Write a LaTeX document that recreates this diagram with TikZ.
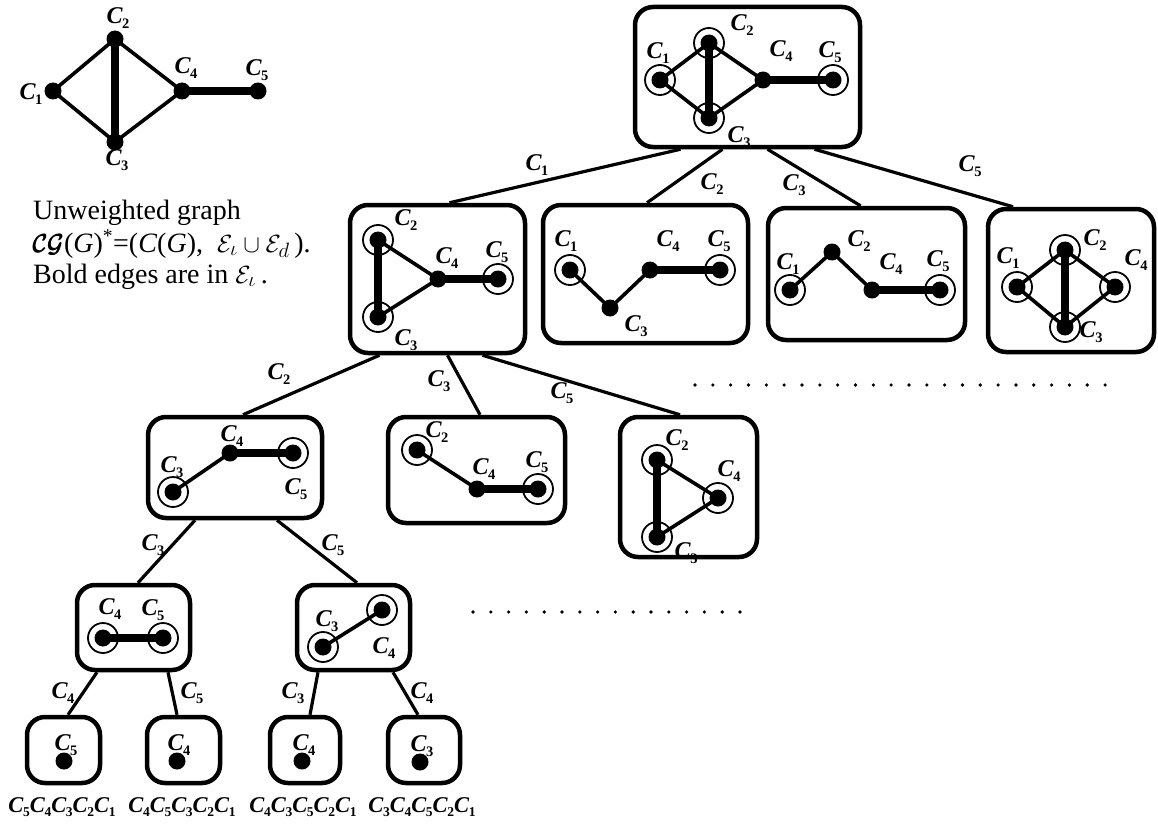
\documentclass[tikz,border=0pt]{standalone}
\usepackage{amsmath,amssymb,bm}
\usepackage{fontspec}
\setmainfont{Liberation Serif}
\usetikzlibrary{calc}

\newcommand\Cv[1]{\textbf{\textit{C}}\kern-0.5pt\raisebox{-4.5pt}{\fontsize{14.5}{14.5}\selectfont\textbf{#1}}}
\newcommand\Cs[1]{\textbf{\textit{C}}\kern-0.5pt\raisebox{-4pt}{\fontsize{13.5}{13.5}\selectfont\textbf{#1}}}
\newcommand\dotat[1]{\fill (#1) circle (8.5pt);}
\newcommand\ringat[1]{\draw[ringst] (#1) circle (15pt);}

\tikzset{
  box/.style={draw, line width=4.5pt, rounded corners=18pt, inner sep=0pt},
  tedge/.style={line width=3.2pt},
  gthin/.style={line width=3.6pt},
  gthick/.style={line width=8pt},
  ringst/.style={line width=1.8pt},
  lab/.style={font=\fontsize{24}{26}\selectfont, inner sep=0pt},
  seq/.style={font=\fontsize{22.5}{24}\selectfont, inner sep=0pt},
  leg/.style={font=\fontsize{28}{32}\selectfont, inner sep=0pt, anchor=base west},
}

\begin{document}
\begin{tikzpicture}[x=1pt,y=-1pt]
\useasboundingbox (0,0) rectangle (1158,824);

% ---------- small reference graph ----------
\coordinate (t1) at (53,91);
\coordinate (t2) at (115,39);
\coordinate (t3) at (115,142);
\coordinate (t4) at (182,91);
\coordinate (t5) at (258,91);
\draw[gthin] (t1) -- (t2) (t1) -- (t3) (t2) -- (t4) (t3) -- (t4);
\draw[gthick] (t2) -- (t3) (t4) -- (t5);
\foreach \p in {t1,t2,t3,t4,t5} {\dotat{\p}}
\node[lab] (tl2) at (118,18) {\Cv2};
\node[lab] (tl1) at (31,94) {\Cv1};
\node[lab] (tl3) at (117,160) {\Cv3};
\node[lab] (tl4) at (186,68) {\Cv4};
\node[lab] (tl5) at (257,70) {\Cv5};

% ---------- legend ----------
\node[leg] (leg1) at (33,219) {Unweighted graph};
\node[leg] (leg2) at (33,252) {\pmb{$\mathcal{C}\mathcal{G}$}(\textit{G})\textsuperscript{*}=(\textit{C}(\textit{G}),\ \ $\mathcal{E}_{\iota}\cup\mathcal{E}_{d}$\,).};
\node[leg] (leg3) at (33,283) {Bold edges are in $\mathcal{E}_{\iota}$\,.};

% ---------- boxes ----------
\node[box, minimum width=225pt, minimum height=140pt] (root) at (747.5,77) {};
\node[box, minimum width=175pt, minimum height=148pt] (bA) at (437.5,279) {};
\node[box, minimum width=205pt, minimum height=138pt] (bB) at (645.5,274) {};
\node[box, minimum width=197pt, minimum height=132pt] (bC) at (866.5,274) {};
\node[box, minimum width=166pt, minimum height=143pt] (bD) at (1071,280.5) {};
\node[box, minimum width=174pt, minimum height=101pt] (bE) at (235,467.5) {};
\node[box, minimum width=177pt, minimum height=106pt] (bF) at (476.5,470) {};
\node[box, minimum width=137pt, minimum height=140pt] (bG) at (688.5,487) {};
\node[box, minimum width=113pt, minimum height=85pt] (bH) at (133.5,627.5) {};
\node[box, minimum width=113pt, minimum height=85pt] (bI) at (353.5,627.5) {};
\node[box, minimum width=73pt, minimum height=66pt] (l1) at (63.5,750) {};
\node[box, minimum width=73pt, minimum height=66pt] (l2) at (183.5,750) {};
\node[box, minimum width=70pt, minimum height=66pt] (l3) at (305,750) {};
\node[box, minimum width=72pt, minimum height=66pt] (l4) at (424,750) {};

% ---------- tree edges ----------
\draw[tedge] ([xshift=-67pt]root.south) -- ([xshift=12pt]bA.north);
\draw[tedge] ([xshift=-25pt]root.south) -- ([xshift=1.5pt]bB.north);
\draw[tedge] ([xshift=20pt]root.south) -- ([xshift=-6pt]bC.north);
\draw[tedge] ([xshift=67pt]root.south) -- ([xshift=-58pt]bD.north);
\draw[tedge] ([xshift=-58pt]bA.south) -- ([xshift=8pt]bE.north);
\draw[tedge] ([xshift=10pt]bA.south) -- ([xshift=3.5pt]bF.north);
\draw[tedge] ([xshift=45pt]bA.south) -- ([xshift=-8.5pt]bG.north);
\draw[tedge] ([xshift=-40pt]bE.south) -- ([xshift=4.5pt]bH.north);
\draw[tedge] ([xshift=42pt]bE.south) -- ([xshift=3.5pt]bI.north);
\draw[tedge] ([xshift=-36.5pt]bH.south) -- ([xshift=4.5pt]l1.north);
\draw[tedge] ([xshift=34.5pt]bH.south) -- ([xshift=-6.5pt]l2.north);
\draw[tedge] ([xshift=-35.5pt]bI.south) -- ([xshift=5pt]l3.north);
\draw[tedge] ([xshift=39.5pt]bI.south) -- ([xshift=-6pt]l4.north);

% ---------- edge labels ----------
\node[lab] (el1) at (537,165) {\Cv1};
\node[lab] (el2) at (712,184) {\Cv2};
\node[lab] (el3) at (794,185) {\Cv3};
\node[lab] (el4) at (970,166) {\Cv5};
\node[lab] (el5) at (279,374) {\Cv2};
\node[lab] (el6) at (439,381) {\Cv3};
\node[lab] (el7) at (562,393) {\Cv5};
\node[lab] (el8) at (153,545) {\Cv3};
\node[lab] (el9) at (333,545) {\Cv5};
\node[lab] (el10) at (63,693) {\Cv4};
\node[lab] (el11) at (192,693) {\Cv5};
\node[lab] (el12) at (293,693) {\Cv3};
\node[lab] (el13) at (422,693) {\Cv4};

% ---------- root graph ----------
\coordinate (r1) at (660,80);
\coordinate (r2) at (709,43);
\coordinate (r3) at (709,118);
\coordinate (r4) at (763,80);
\coordinate (r5) at (833,80);
\draw[gthin] (r1) -- (r2) (r1) -- (r3) (r2) -- (r4) (r3) -- (r4);
\draw[gthick] (r2) -- (r3) (r4) -- (r5);
\foreach \p in {r1,r2,r3,r5} {\ringat{\p}}
\foreach \p in {r1,r2,r3,r4,r5} {\dotat{\p}}
\node[lab] (rl1) at (658,53) {\Cv1};
\node[lab] (rl2) at (742,25) {\Cv2};
\node[lab] (rl4) at (781,51) {\Cv4};
\node[lab] (rl5) at (830,52) {\Cv5};
\node[lab] (rl3) at (739,137) {\Cv3};

% ---------- box A ----------
\coordinate (a2) at (378,240);
\coordinate (a3) at (378,317);
\coordinate (a4) at (438,279);
\coordinate (a5) at (498,279);
\draw[gthin] (a2) -- (a4) (a3) -- (a4);
\draw[gthick] (a2) -- (a3) (a4) -- (a5);
\foreach \p in {a2,a3,a5} {\ringat{\p}}
\foreach \p in {a2,a3,a4,a5} {\dotat{\p}}
\node[lab] (al2) at (406,220) {\Cv2};
\node[lab] (al4) at (447,258) {\Cv4};
\node[lab] (al5) at (497,252) {\Cv5};
\node[lab] (al3) at (406,340) {\Cv3};

% ---------- box B ----------
\coordinate (b1) at (570,270);
\coordinate (b3) at (610,308);
\coordinate (b4) at (650,270);
\coordinate (b5) at (720,270);
\draw[gthin] (b1) -- (b3) (b3) -- (b4);
\draw[gthick] (b4) -- (b5);
\foreach \p in {b1,b5} {\ringat{\p}}
\foreach \p in {b1,b3,b4,b5} {\dotat{\p}}
\node[lab] (bl1) at (566,241) {\Cv1};
\node[lab] (bl4) at (668,241) {\Cv4};
\node[lab] (bl5) at (719,241) {\Cv5};
\node[lab] (bl3) at (636,326) {\Cv3};

% ---------- box C ----------
\coordinate (c1) at (790,290);
\coordinate (c2) at (832,252);
\coordinate (c4) at (872,290);
\coordinate (c5) at (940,290);
\draw[gthin] (c1) -- (c2) (c2) -- (c4);
\draw[gthick] (c4) -- (c5);
\foreach \p in {c1,c5} {\ringat{\p}}
\foreach \p in {c1,c2,c4,c5} {\dotat{\p}}
\node[lab] (cl1) at (788,264) {\Cv1};
\node[lab] (cl2) at (859,241) {\Cv2};
\node[lab] (cl4) at (891,264) {\Cv4};
\node[lab] (cl5) at (938,261) {\Cv5};

% ---------- box D ----------
\coordinate (d1) at (1017,287);
\coordinate (d2) at (1065,250);
\coordinate (d3) at (1065,327);
\coordinate (d4) at (1115,287);
\draw[gthin] (d1) -- (d2) (d1) -- (d3) (d2) -- (d4) (d3) -- (d4);
\draw[gthick] (d2) -- (d3);
\foreach \p in {d1,d2,d3,d4} {\ringat{\p}}
\foreach \p in {d1,d2,d3,d4} {\dotat{\p}}
\node[lab] (dl1) at (1008,258) {\Cv1};
\node[lab] (dl2) at (1095,240) {\Cv2};
\node[lab] (dl4) at (1136,260) {\Cv4};
\node[lab] (dl3) at (1091,332) {\Cv3};

% ---------- box E ----------
\coordinate (e3) at (173,492);
\coordinate (e4) at (230,453);
\coordinate (e5) at (293,453);
\draw[gthin] (e3) -- (e4);
\draw[gthick] (e4) -- (e5);
\foreach \p in {e3,e5} {\ringat{\p}}
\foreach \p in {e3,e4,e5} {\dotat{\p}}
\node[lab] (elb4) at (232,436) {\Cv4};
\node[lab] (elb3) at (172,467) {\Cv3};
\node[lab] (elb5) at (296,489) {\Cv5};

% ---------- box F ----------
\coordinate (f2) at (417,450);
\coordinate (f4) at (477,489);
\coordinate (f5) at (538,489);
\draw[gthin] (f2) -- (f4);
\draw[gthick] (f4) -- (f5);
\foreach \p in {f2,f5} {\ringat{\p}}
\foreach \p in {f2,f4,f5} {\dotat{\p}}
\node[lab] (fl2) at (437,432) {\Cv2};
\node[lab] (fl4) at (484,469) {\Cv4};
\node[lab] (fl5) at (537,462) {\Cv5};

% ---------- box G ----------
\coordinate (gg2) at (657,460);
\coordinate (gg3) at (657,537);
\coordinate (gg4) at (718,498);
\draw[gthin] (gg2) -- (gg4) (gg3) -- (gg4);
\draw[gthick] (gg2) -- (gg3);
\foreach \p in {gg2,gg3,gg4} {\ringat{\p}}
\foreach \p in {gg2,gg3,gg4} {\dotat{\p}}
\node[lab] (gl2) at (677,440) {\Cv2};
\node[lab] (gl4) at (729,471) {\Cv4};
\node[lab] (gl3) at (686,553) {\Cv3};

% ---------- box H ----------
\coordinate (h4) at (103,638);
\coordinate (h5) at (163,638);
\draw[gthick] (h4) -- (h5);
\foreach \p in {h4,h5} {\ringat{\p}}
\foreach \p in {h4,h5} {\dotat{\p}}
\node[lab] (hl4) at (110,609) {\Cv4};
\node[lab] (hl5) at (153,610) {\Cv5};

% ---------- box I ----------
\coordinate (i3) at (323,647);
\coordinate (i5) at (382,610);
\draw[gthin] (i3) -- (i5);
\foreach \p in {i3,i5} {\ringat{\p}}
\foreach \p in {i3,i5} {\dotat{\p}}
\node[lab] (il3) at (327,621) {\Cv3};
\node[lab] (il4) at (384,648) {\Cv4};

% ---------- leaves ----------
\node[lab] (ll1) at (66,745) {\Cv5};
\node[lab] (ll2) at (179,745) {\Cv4};
\node[lab] (ll3) at (304,745) {\Cv4};
\node[lab] (ll4) at (422,746) {\Cv3};
\coordinate (v1) at (64,761);
\coordinate (v2) at (177,761);
\coordinate (v3) at (302,761);
\coordinate (v4) at (420,762);
\foreach \p in {v1,v2,v3,v4} {\dotat{\p}}

% ---------- sequences ----------
\node[seq] (s1) at (62,807) {\Cs5\Cs4\Cs3\Cs2\Cs1};
\node[seq] (s2) at (182,807) {\Cs4\Cs5\Cs3\Cs2\Cs1};
\node[seq] (s3) at (303,807) {\Cs4\Cs3\Cs5\Cs2\Cs1};
\node[seq] (s4) at (422,807) {\Cs3\Cs4\Cs5\Cs2\Cs1};

% ---------- dotted continuation rows ----------
\foreach \i in {0,...,23} {\fill (695+\i*17.83,385) circle (1.8pt);}
\foreach \i in {0,...,15} {\fill (473+\i*17.8,612) circle (1.8pt);}
\end{tikzpicture}
\end{document}
